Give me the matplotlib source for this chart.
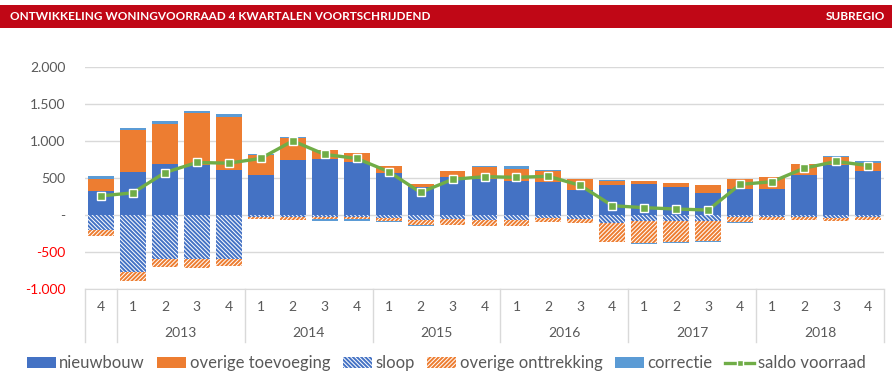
import matplotlib.pyplot as plt
import matplotlib.transforms as mtransforms
from matplotlib.lines import Line2D
from matplotlib.patches import Patch
import numpy as np

plt.rcParams['font.family'] = ['Lato', 'DejaVu Sans']
plt.rcParams['hatch.linewidth'] = 1.4

# quarters: 2012 Q4 .. 2018 Q4
quarter_labels = ['4'] + ['1', '2', '3', '4'] * 6
years = ['2013', '2014', '2015', '2016', '2017', '2018']

nieuwbouw = [327, 586, 695, 673, 614, 545, 736, 755, 709, 573, 373, 518, 491,
             464, 450, 341, 409, 423, 373, 300, 355, 355, 545, 673, 600]
overige_toevoeging = [164, 559, 532, 709, 713, 264, 300, 118, 123, 82, 50, 82, 159,
                      163, 150, 141, 55, 41, 63, 109, 136, 154, 137, 109, 105]
sloop = [-195, -764, -591, -591, -591, -23, -27, -32, -32, -36, -68, -59, -68,
         -68, -45, -50, -109, -73, -73, -73, -27, -32, -32, -36, -32]
overige_onttrekking = [-91, -122, -114, -123, -91, -27, -41, -27, -27, -37, -68, -68, -77,
                       -77, -46, -55, -255, -304, -291, -282, -64, -32, -32, -46, -32]
correctie = [41, 28, 41, 27, 32, 9, 14, -14, -14, -18, -14, 0, 18,
             28, 14, 9, 13, -14, -14, -14, -14, 9, 13, 9, 18]
saldo_voorraad = [259, 300, 573, 709, 700, 764, 1000, 818, 764, 586, 305, 482, 518,
                  509, 523, 400, 127, 100, 82, 68, 414, 450, 632, 723, 668]

C_BLUE = '#4472C4'
C_ORANGE = '#ED7D31'
C_LIGHT = '#5B9BD5'
C_GREEN = '#70AD47'
C_GRID = '#D9D9D9'
C_TEXT = '#595959'
C_RED = '#C00716'
HATCH_SLOOP = '\\' * 8
HATCH_ONTT = '/' * 8

W, H = 892, 382
fig = plt.figure(figsize=(W / 100, H / 100), dpi=100)

# red header
fig.patches.append(plt.Rectangle((0, 1 - 28 / H), 1, 23 / H, transform=fig.transFigure,
                                 facecolor=C_RED, edgecolor='none'))
fig.text(10 / W, 1 - 16.5 / H, 'ONTWIKKELING WONINGVOORRAAD 4 KWARTALEN VOORTSCHRIJDEND',
         color='white', fontsize=8.5, fontweight='bold', va='center', ha='left')
fig.text(885 / W, 1 - 16.5 / H, 'SUBREGIO', color='white', fontsize=8.5,
         fontweight='bold', va='center', ha='right')

ax_left, ax_right = 85, 884
ax_top, ax_bottom = 66.7, 289.3
ax = fig.add_axes([ax_left / W, 1 - ax_bottom / H, (ax_right - ax_left) / W,
                   (ax_bottom - ax_top) / H])

x = np.arange(len(quarter_labels))
nb = np.array(nieuwbouw)
ot = np.array(overige_toevoeging)
sl = np.array(sloop)
on = np.array(overige_onttrekking)
co = np.array(correctie)
width = 0.81

ax.bar(x, nb, width, color=C_BLUE, zorder=2)
ax.bar(x, ot, width, bottom=nb, color=C_ORANGE, zorder=2)
ax.bar(x, sl, width, facecolor='white', edgecolor=C_BLUE, hatch=HATCH_SLOOP, lw=0, zorder=2)
ax.bar(x, on, width, bottom=sl, facecolor='white', edgecolor=C_ORANGE, hatch=HATCH_ONTT,
       lw=0, zorder=2)
co_bottom = np.where(co >= 0, nb + ot, sl + on)
ax.bar(x, co, width, bottom=co_bottom, color=C_LIGHT, zorder=2)
ax.plot(x, saldo_voorraad, color=C_GREEN, lw=2.4, marker='s', markersize=6,
        markerfacecolor=C_GREEN, markeredgecolor='white', markeredgewidth=1, zorder=3)

ax.set_xlim(-0.5, len(x) - 0.5)
ax.set_ylim(-1000, 2000)
yticks = [-1000, -500, 0, 500, 1000, 1500, 2000]
ylabels = ['-1.000', '-500', '-', '500', '1.000', '1.500', '2.000']
ax.set_yticks(yticks)
ax.set_yticklabels(ylabels, fontsize=10)
for lab, v in zip(ax.get_yticklabels(), yticks):
    lab.set_color('#FF0000' if v < 0 else C_TEXT)
ax.tick_params(axis='y', length=0, pad=14)
ax.grid(axis='y', color=C_GRID, lw=1, zorder=0)
ax.set_axisbelow(True)
for s in ['top', 'left', 'right']:
    ax.spines[s].set_visible(False)
ax.spines['bottom'].set_color(C_GRID)
ax.set_xticks([])

# two-level category axis
trans = mtransforms.blended_transform_factory(ax.transData, ax.transAxes)
axh = ax_bottom - ax_top
for xi, q in zip(x, quarter_labels):
    ax.text(xi, -17.4 / axh, q, transform=trans, ha='center', va='center',
            fontsize=10, color=C_TEXT)
sep_bottom = -(341.7 - ax_bottom) / axh
seps = [-0.5, 0.5] + [0.5 + 4 * (i + 1) for i in range(len(years))]
for s in seps:
    ax.plot([s, s], [0, sep_bottom], transform=trans, color=C_GRID, lw=1, clip_on=False)
for i, yr in enumerate(years):
    ax.text(0.5 + 4 * i + 2, -43.4 / axh, yr, transform=trans, ha='center', va='center',
            fontsize=10, color=C_TEXT)

handles = [
    Patch(facecolor=C_BLUE, label='nieuwbouw'),
    Patch(facecolor=C_ORANGE, label='overige toevoeging'),
    Patch(facecolor='white', edgecolor=C_BLUE, hatch=HATCH_SLOOP, lw=0, label='sloop'),
    Patch(facecolor='white', edgecolor=C_ORANGE, hatch=HATCH_ONTT, lw=0,
          label='overige onttrekking'),
    Patch(facecolor=C_LIGHT, label='correctie'),
    Line2D([0], [0], color=C_GREEN, lw=2.4, marker='s', markersize=4,
           markerfacecolor=C_GREEN, markeredgecolor='white', label='saldo voorraad'),
]
leg = fig.legend(handles=handles, loc='center', bbox_to_anchor=(0.5, 1 - 363.3 / H),
                 ncol=6, frameon=False, fontsize=12, handlelength=1.75,
                 handleheight=0.6, handletextpad=0.2, columnspacing=0.75,
                 labelcolor=C_TEXT)

fig.savefig('out.png', dpi=100, facecolor='white')
